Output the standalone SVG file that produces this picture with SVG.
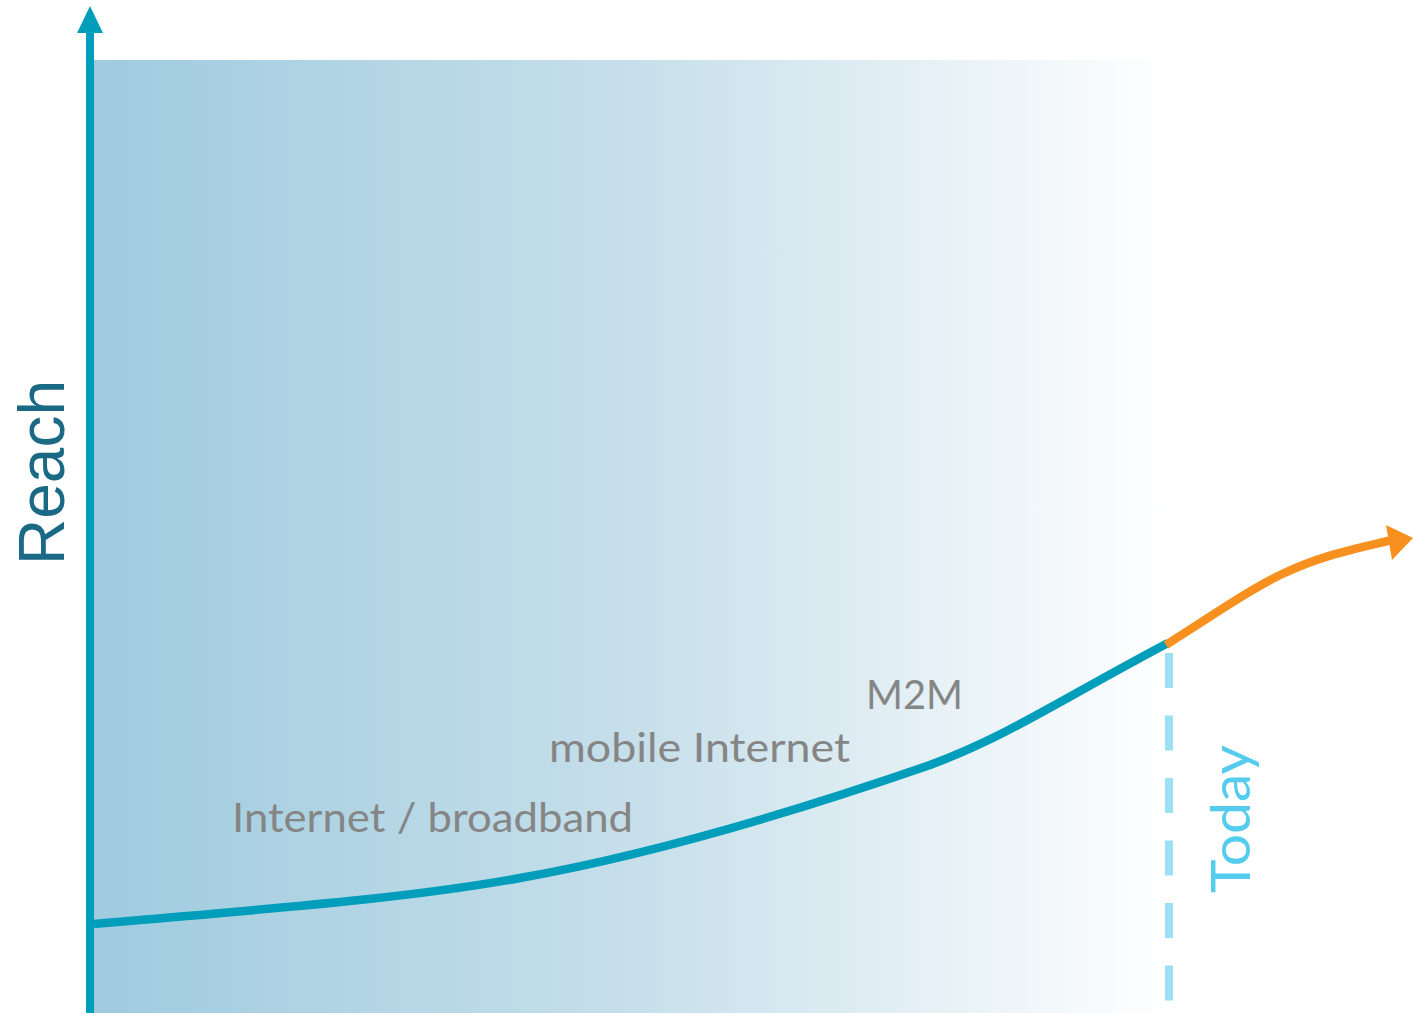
<svg xmlns="http://www.w3.org/2000/svg" width="1413" height="1013" viewBox="0 0 1413 1013">
<defs>
<linearGradient id="bg" x1="0" y1="0" x2="1" y2="0">
<stop offset="0" stop-color="#9FCBDF"/>
<stop offset="0.5" stop-color="#C6DFEA"/>
<stop offset="1" stop-color="#FFFFFF"/>
</linearGradient>
<style>
.lbl{font-family:Lato,"Open Sans",sans-serif;font-size:41px;fill:#858585}
</style>
</defs>
<rect width="1413" height="1013" fill="#fff"/>
<rect x="94" y="60" width="1078" height="953" fill="url(#bg)"/>
<g id="axis">
<line x1="90" y1="30" x2="90" y2="1013" stroke="#009EBB" stroke-width="8"/>
<polygon points="90,6 77,33 103,33" fill="#009EBB"/>
</g>
<g id="reach"><text transform="translate(64,565) rotate(-90)" font-family="Liberation Sans,Arial,sans-serif" font-size="64" fill="#1A6A85">Reach</text></g>
<g id="today-line"><line x1="1169" y1="653" x2="1169" y2="1005" stroke="#9CE0F4" stroke-width="8" stroke-dasharray="35 27.5"/></g>
<g id="today"><text transform="translate(1250,893) rotate(-90)" font-family="Lato,'Open Sans',sans-serif" font-size="55" fill="#55CCEE" textLength="148" lengthAdjust="spacingAndGlyphs">Today</text></g>
<g id="connectors">
<path d="M94,924 C250,910 400,900 520,878 C650,855 800,810 930,765 C1010,735 1060,700 1168,643" fill="none" stroke="#009EBB" stroke-width="8.5"/>
<path d="M1166,645 C1220,610 1250,590 1280,575 C1320,556 1350,550 1392,540" fill="none" stroke="#F7901E" stroke-width="8.5"/>
<polygon points="1413,538 1386,525 1392,560" fill="#F7901E"/>
</g>
<g id="labels">
<text class="lbl" x="232" y="832" textLength="401" lengthAdjust="spacingAndGlyphs">Internet / broadband</text>
<text class="lbl" x="549" y="762" textLength="301" lengthAdjust="spacingAndGlyphs">mobile Internet</text>
<text class="lbl" x="866" y="709" textLength="97" lengthAdjust="spacingAndGlyphs">M2M</text>
</g>
</svg>
